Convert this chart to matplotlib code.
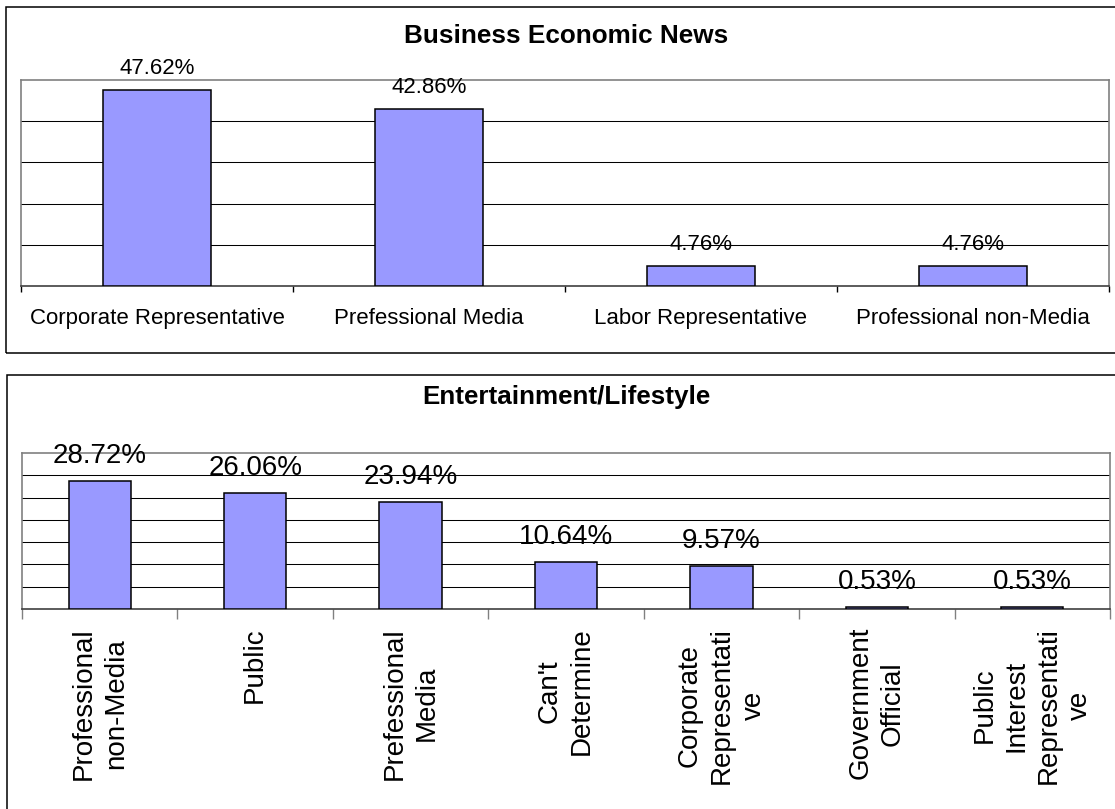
"""Source-type share charts: Business Economic News and Entertainment/Lifestyle."""
import matplotlib

matplotlib.use("Agg")
import matplotlib.pyplot as plt
import numpy as np
from matplotlib.patches import Rectangle

plt.rcParams["font.family"] = ["Liberation Sans", "DejaVu Sans"]

# Business Economic News
biz_labels = [
    "Corporate Representative",
    "Prefessional Media",
    "Labor Representative",
    "Professional non-Media",
]
biz_values = [47.62, 42.86, 4.76, 4.76]

# Entertainment/Lifestyle
ent_labels = [
    "Professional\nnon-Media",
    "Public",
    "Prefessional\nMedia",
    "Can't\nDetermine",
    "Corporate\nRepresentati\nve",
    "Government\nOfficial",
    "Public\nInterest\nRepresentati\nve",
]
ent_values = [28.72, 26.06, 23.94, 10.64, 9.57, 0.53, 0.53]

BAR_COLOR = "#9999FF"
W, H = 1115, 809


def px_axes(fig, left, top, right, bottom):
    """Add axes placed by pixel edges (origin at upper left)."""
    return fig.add_axes([left / W, 1 - bottom / H, (right - left) / W, (bottom - top) / H])


def draw_panel(ax, labels, values, ymax, ystep, label_size, value_size,
               value_offset, tick_len, tick_color, label_pad, rotation=0):
    n = len(values)
    x = np.arange(n)
    ax.bar(x, values, width=0.4, color=BAR_COLOR, edgecolor="black",
           linewidth=1.1, zorder=3)

    ax.set_xlim(-0.5, n - 0.5)
    ax.set_ylim(0, ymax)
    ax.set_yticks(np.arange(ystep, ymax, ystep))
    ax.yaxis.grid(True, color="black", linewidth=0.75)
    ax.set_axisbelow(True)
    ax.tick_params(axis="y", length=0, labelleft=False)

    # category labels at centres, tick marks at the boundaries
    ax.set_xticks(x)
    ax.set_xticklabels(labels, fontsize=label_size, rotation=rotation,
                       multialignment="center", linespacing=1.3)
    ax.set_xticks(np.arange(n + 1) - 0.5, minor=True)
    ax.tick_params(axis="x", which="major", length=0, pad=label_pad)
    ax.tick_params(axis="x", which="minor", length=tick_len, width=1.0,
                   color=tick_color, direction="out")

    for side in ("top", "left", "right"):
        ax.spines[side].set_color("#808080")
        ax.spines[side].set_linewidth(1.2)
    ax.spines["bottom"].set_color("#404040")
    ax.spines["bottom"].set_linewidth(1.2)

    for xi, v in zip(x, values):
        ax.annotate(f"{v:.2f}%", (xi, v), xytext=(0, value_offset),
                    textcoords="offset points", ha="center", va="baseline",
                    fontsize=value_size, zorder=4)


fig = plt.figure(figsize=(W / 100, H / 100), dpi=100)

# chart frames
fig.patches.append(Rectangle((6 / W, 1 - 353 / H), 1.2, 346 / H,
                             transform=fig.transFigure, fill=False,
                             edgecolor="black", linewidth=1.1))
fig.patches.append(Rectangle((7 / W, -0.1), 1.2, 0.1 + 1 - 375 / H,
                             transform=fig.transFigure, fill=False,
                             edgecolor="black", linewidth=1.1))

ax1 = px_axes(fig, 21, 80, 1109, 286)
draw_panel(ax1, biz_labels, biz_values, ymax=50, ystep=10,
           label_size=16, value_size=16, value_offset=11.5,
           tick_len=4.3, tick_color="black", label_pad=16)
fig.text(566 / W, 1 - 36 / H, "Business Economic News", ha="center",
         va="center", fontsize=18.8, fontweight="bold")

ax2 = px_axes(fig, 22, 453, 1110, 609)
draw_panel(ax2, ent_labels, ent_values, ymax=35, ystep=5,
           label_size=20, value_size=20, value_offset=13,
           tick_len=7, tick_color="#808080", label_pad=13, rotation=90)
fig.text(566 / W, 1 - 397 / H, "Entertainment/Lifestyle", ha="center",
         va="center", fontsize=18.7, fontweight="bold")

fig.savefig("out.png", dpi=100)
plt.close(fig)
